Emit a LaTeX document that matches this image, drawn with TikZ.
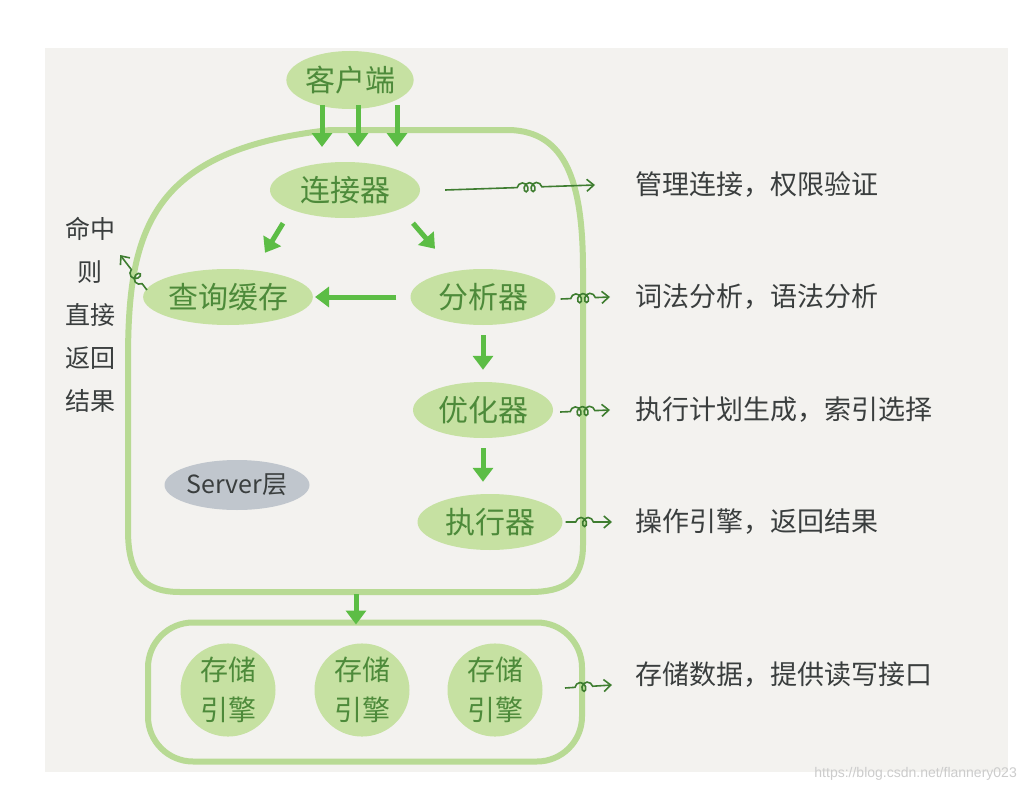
\documentclass[tikz,border=0pt]{standalone}
\usepackage{fontspec}
\newfontfamily\cjk{Noto Sans CJK SC}
\newfontfamily\wmfont{Liberation Sans}
\usetikzlibrary{arrows.meta,calc,shapes.geometric,decorations.pathmorphing}
\definecolor{panel}{HTML}{F3F2EF}
\definecolor{leaf}{HTML}{C6E1A2}
\definecolor{leaftext}{HTML}{4D8A3A}
\definecolor{flowgreen}{HTML}{5CBD45}
\definecolor{rim}{HTML}{B8DA94}
\definecolor{curlgreen}{HTML}{3E7D30}
\definecolor{ink}{HTML}{3A3E3E}
\definecolor{tagfill}{HTML}{C0C6CD}
\tikzset{stage/.style={ellipse, fill=leaf, text=leaftext, inner sep=0pt,
    minimum width=145pt, minimum height=56pt, font=\cjk\fontsize{30}{34}\selectfont},
  engine/.style={ellipse, fill=leaf, text=leaftext, inner sep=0pt, align=center,
    minimum width=95pt, minimum height=93pt, font=\cjk\fontsize{28}{40}\selectfont},
  flow/.style={draw=flowgreen, line width=5pt, -{Triangle[width=20pt,length=14pt]}},
  rimline/.style={draw=rim, line width=6pt},
  curl/.style={draw=curlgreen, line width=1.6pt, -{Straight Barb[length=7pt,width=12pt]},
    decorate, decoration={coil, aspect=0.8, amplitude=4.5pt, segment length=7pt,
    pre length=#1, post length=14pt}},
  curl/.default=10pt,
  note/.style={text=ink, anchor=west, inner sep=0pt, font=\cjk\fontsize{27}{30}\selectfont}}

\begin{document}
\begin{tikzpicture}[x=1pt, y=-1pt]
  % paper
  \fill[white] (0,0) rectangle (1026,792);
  \fill[panel] (45,48) rectangle (1008,772);
  % server layer outline
  \draw[rimline] (330,130) -- (510,130) .. controls (565,132) and (583,180) .. (583,270)
    -- (583,545) .. controls (583,580) and (565,592) .. (530,592) -- (180,592)
    .. controls (140,592) and (128,570) .. (128,530) -- (128,360)
    .. controls (128,230) and (150,150) .. (330,130) -- cycle;
  \coordinate (srvtop) at (350,147);
  \coordinate (srvbot) at (356,594);
  % storage layer outline
  \node[rimline, rounded corners=45pt, minimum width=434pt, minimum height=139pt] (store) at (365,692) {};
  % stages
  \node[stage, minimum width=122pt, minimum height=58pt] (client) at (350,80) {客户端};
  \node[stage, minimum width=150pt] (conn) at (345,190) {连接器};
  \node[stage] (cache) at (228,297) {查询缓存};
  \node[stage] (parse) at (483,297) {分析器};
  \node[stage, minimum width=140pt] (optim) at (483,410) {优化器};
  \node[stage] (exec) at (490,522) {执行器};
  \node[ellipse, fill=tagfill, text=ink, inner sep=0pt, minimum width=145pt, minimum height=50pt,
    font=\cjk\fontsize{25}{27}\selectfont] (layer) at (237,485) {Server层};
  \foreach \i/\x in {1/228, 2/362, 3/495}{
    \node[engine] (eng\i) at (\x,690) {存储\\引擎};}
  % notes
  \node[note] (n1) at (635,185) {管理连接，权限验证};
  \node[note] (n2) at (635,297) {词法分析，语法分析};
  \node[note] (n3) at (635,410) {执行计划生成，索引选择};
  \node[note] (n4) at (635,522) {操作引擎，返回结果};
  \node[note] (n5) at (635,675) {存储数据，提供读写接口};
  \node[text=ink, align=center, inner sep=0pt, font=\cjk\fontsize{25}{43}\selectfont] (hit) at (90,315)
    {命中\\则\\直接\\返回\\结果};
  % flow
  \foreach \d in {-28,8,47}{
    \draw[flow] ([xshift=\d pt, yshift=4pt]client.south) -- ([xshift=\d pt]srvtop);}
  \draw[flow] ($(conn.south)+(-62,5)$) -- ($(cache.north)+(37,-16)$);
  \draw[flow] ($(conn.south)+(68,5)$) -- ($(parse.north)+(-48,-20)$);
  \draw[flow, shorten <=14pt, shorten >=2pt] (parse.west) -- (cache.east);
  \draw[flow, shorten <=10pt, shorten >=12pt] (parse.south) -- (optim.north);
  \draw[flow, shorten <=10pt, shorten >=12pt] (optim.south) -- (optim.south |- exec.north);
  \draw[flow] (srvbot) -- ([yshift=-5pt]srvbot |- store.north);
  % curly pointers
  \draw[curl=72pt, decoration={post length=48pt}] ($(conn.east)+(25,0)$) -- ($(n1.west)+(-40,0)$);
  \draw[curl] ($(parse.east)+(5,2)$) -- ($(n2.west)+(-25,0)$);
  \draw[curl] ($(optim.east)+(7,2)$) -- ($(n3.west)+(-25,0)$);
  \draw[curl] ($(exec.east)+(3,0)$) -- ($(n4.west)+(-23,0)$);
  \draw[curl] ($(store.east)+(-20,-4)$) -- ($(n5.west)+(-23,10)$);
  \draw[curl=8pt] ($(cache.west)+(4,-7)$) -- ($(hit.east)+(5,-60)$);
  % watermark
  \node[anchor=east, inner sep=0pt, text=black!20, font=\wmfont\fontsize{14}{14}\selectfont] (mark)
    at (1017,774) {https://blog.csdn.net/flannery023};
\end{tikzpicture}
\end{document}
